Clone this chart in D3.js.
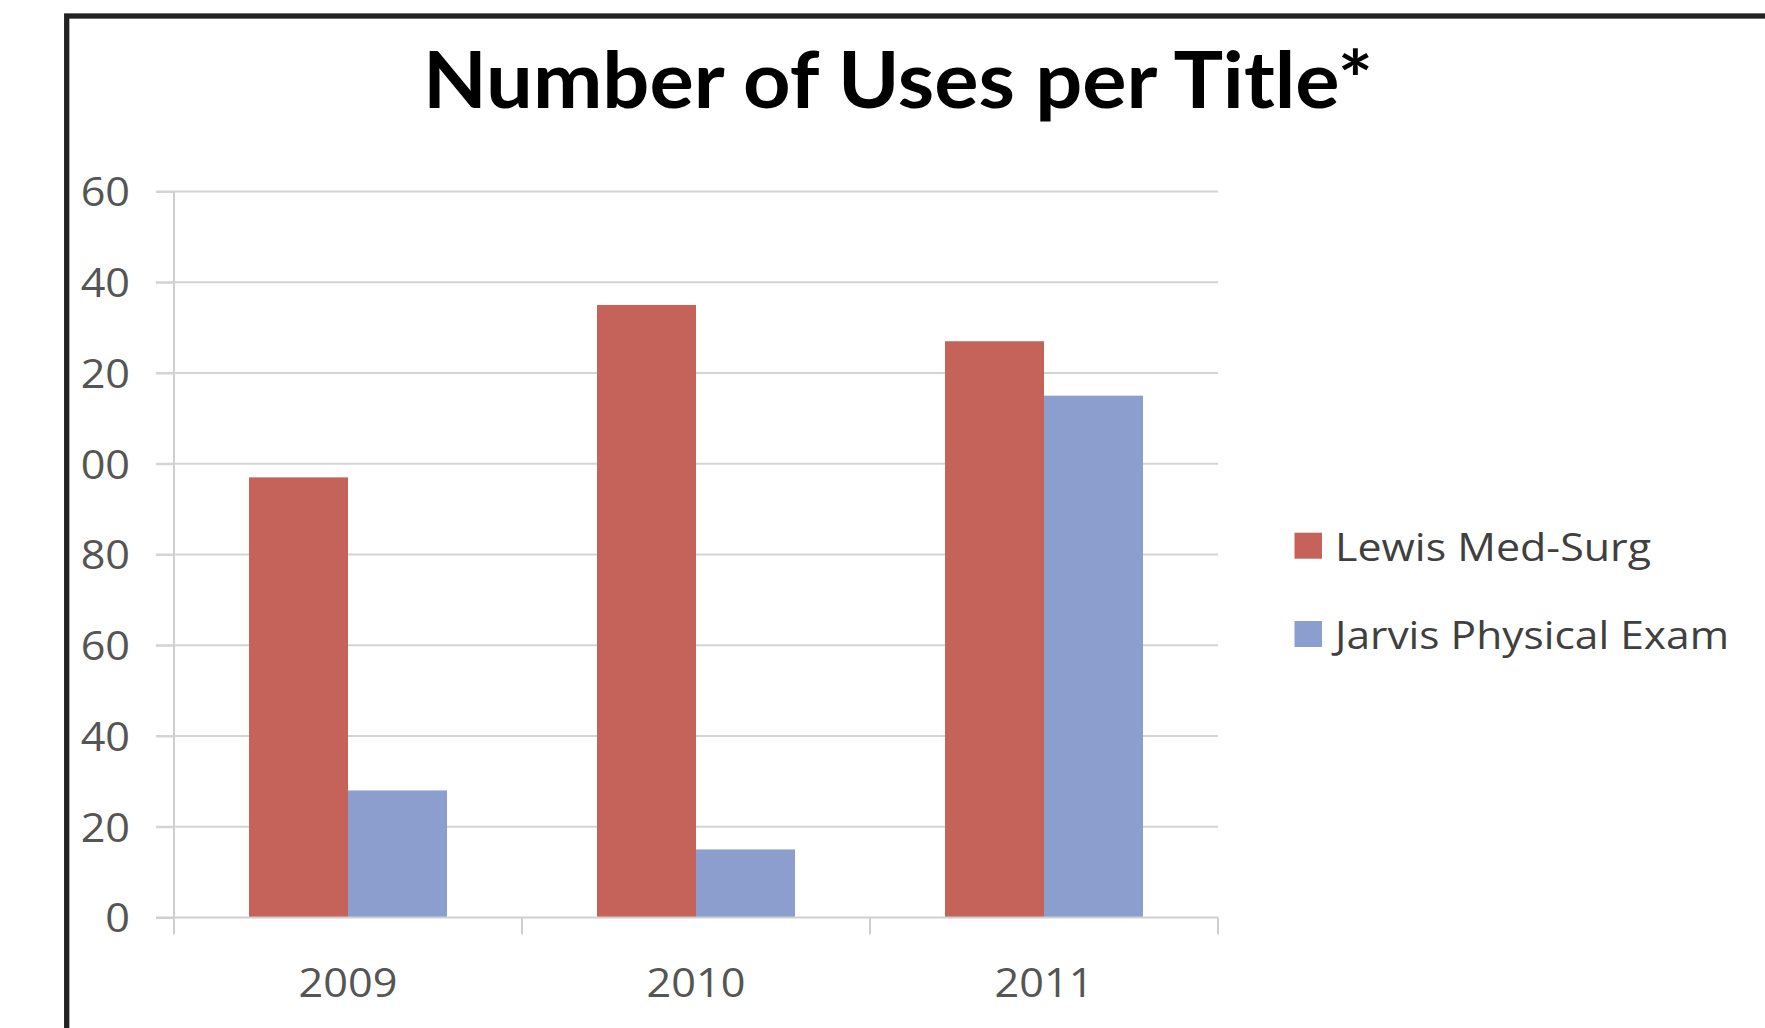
<!DOCTYPE html>
<html><head><meta charset="utf-8">
<script src="https://cdn.jsdelivr.net/npm/d3@7"></script>
<style>html,body{margin:0;padding:0;background:#fff;overflow:hidden}</style>
</head><body>
<svg id="c" width="1765" height="1028"></svg>
<script>
// ---- data ----
const titleText = "Number of Uses per Title*";
const years = ["2009", "2010", "2011"];
const seriesNames = ["Lewis Med-Surg", "Jarvis Physical Exam"];
const lewisValues = [97, 135, 127];
const jarvisValues = [28, 15, 115];
const yTicks = [0, 20, 40, 60, 80, 100, 120, 140, 160];
const seriesColors = ["#C5635B", "#8B9ECE"];

// ---- layout ----
const W = 1765, H = 1028;
const plot = {left: 174, right: 1218, top: 191.5, bottom: 917.5};
const svg = d3.select("#c");
svg.append("rect").attr("width", W).attr("height", H).attr("fill", "#fff");

svg.append("defs").append("clipPath").attr("id", "clip")
  .append("rect").attr("x", 75).attr("y", 0).attr("width", W).attr("height", H);

const g = svg.append("g").attr("clip-path", "url(#clip)");

const x0 = d3.scaleBand().domain(years).range([plot.left, plot.right]).padding(0);
const bw = x0.bandwidth();
const gap = 0.2155 * bw;
const x1 = d3.scaleBand().domain(seriesNames).range([gap, bw - gap]).padding(0);
const y = d3.scaleLinear().domain([0, 160]).range([plot.bottom, plot.top]);

// gridlines
g.append("g").selectAll("line").data(yTicks.filter(t => t > 0)).join("line")
  .attr("x1", plot.left - 18).attr("x2", plot.right)
  .attr("y1", d => y(d)).attr("y2", d => y(d))
  .attr("stroke", "#d4d4d4").attr("stroke-width", 2);

// bars
const rows = years.map((yr, i) => ({year: yr, values: [lewisValues[i], jarvisValues[i]]}));
g.append("g").selectAll("g").data(rows).join("g")
  .attr("transform", d => `translate(${x0(d.year)},0)`)
  .selectAll("rect").data(d => d.values.map((v, j) => ({name: seriesNames[j], v, j}))).join("rect")
  .attr("x", d => x1(d.name)).attr("width", x1.bandwidth())
  .attr("y", d => y(d.v)).attr("height", d => y(0) - y(d.v))
  .attr("fill", d => seriesColors[d.j]);

// y axis
const yAxis = g.append("g").attr("transform", `translate(${plot.left},0)`)
  .call(d3.axisLeft(y).tickValues(yTicks).tickSize(18).tickSizeOuter(0).tickFormat(d3.format("d")));
yAxis.select(".domain").attr("stroke", "#cfcfcf").attr("stroke-width", 2)
  .attr("d", `M0,${y(160)}V${plot.bottom + 17}`);
yAxis.selectAll(".tick line").attr("stroke", "#d4d4d4").attr("stroke-width", 2);
yAxis.selectAll(".tick text")
  .attr("x", -40.7).attr("dy", "0.36em")
  .attr("transform", "scale(1.08,1)")
  .attr("fill", "#555").style("font-family", "'Open Sans', sans-serif").style("font-size", "40px");

// x axis
const xAxis = g.append("g").attr("transform", `translate(0,${plot.bottom})`)
  .call(d3.axisBottom(x0).tickSize(0).tickSizeOuter(0));
xAxis.select(".domain").attr("stroke", "#cfcfcf").attr("stroke-width", 2)
  .attr("d", `M${plot.left - 18},0H${plot.right}`);
xAxis.selectAll(".tick text")
  .attr("y", 79.5).attr("dy", 0)
  .attr("transform", "scale(1.08,1)")
  .attr("fill", "#555").style("font-family", "'Open Sans', sans-serif").style("font-size", "40px");
const bounds = years.map(d => x0(d)).concat([x0.range()[1]]);
xAxis.append("g").selectAll("line").data(bounds.slice(1)).join("line")
  .attr("x1", d => d).attr("x2", d => d).attr("y1", 0).attr("y2", 17)
  .attr("stroke", "#cfcfcf").attr("stroke-width", 2);

// title
svg.append("text").attr("x", 898).attr("y", 107.5)
  .attr("text-anchor", "middle")
  .attr("textLength", 950).attr("lengthAdjust", "spacingAndGlyphs")
  .style("font-family", "Lato, 'Open Sans', sans-serif").style("font-weight", "bold")
  .style("font-size", "79px").attr("fill", "#000").text(titleText);

// legend
const legendY = [532.7, 621];
const legendW = [316, 394];
const leg = svg.append("g").selectAll("g").data(seriesNames).join("g")
  .attr("transform", (d, i) => `translate(1294.5,${legendY[i]})`);
leg.append("rect").attr("width", 27.5).attr("height", 26)
  .attr("fill", (d, i) => seriesColors[i]);
leg.append("text").attr("x", 40.5).attr("y", 28.3)
  .attr("textLength", (d, i) => legendW[i]).attr("lengthAdjust", "spacingAndGlyphs")
  .style("font-family", "'Open Sans', sans-serif").style("font-size", "39px")
  .attr("fill", "#404040").text(d => d);

// frame (extends beyond the window on right and bottom)
svg.append("rect").attr("x", 66.7).attr("y", 16).attr("width", 2000).attr("height", 2000)
  .attr("fill", "none").attr("stroke", "#222").attr("stroke-width", 5.3);
</script>
</body></html>
